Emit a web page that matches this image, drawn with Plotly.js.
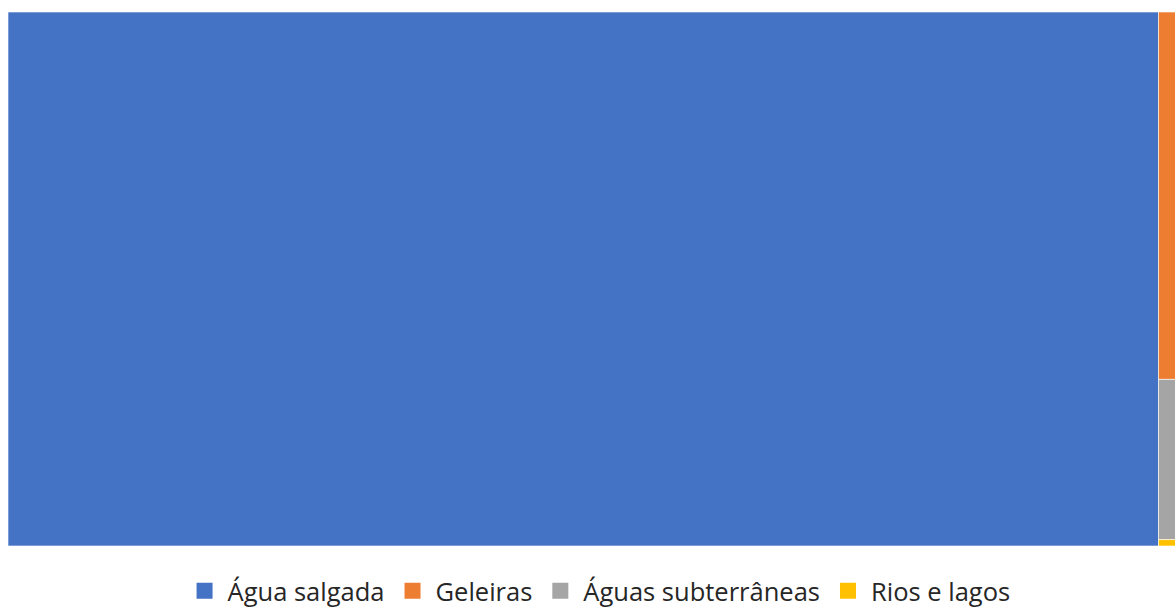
<!DOCTYPE html>
<html>
<head>
<meta charset="utf-8">
<script src="https://cdn.plot.ly/plotly-3.0.1.min.js"></script>
<style>
html,body{margin:0;padding:0;overflow:hidden;background:#fff;}
#chart{width:1190px;height:607px;}
</style>
</head>
<body>
<div id="chart"></div>
<script>
const categories = ["Água salgada", "Geleiras", "Águas subterrâneas", "Rios e lagos"];
const values = [97.5, 1.72, 0.75, 0.03];
const colors = ["#4472C4", "#ED7D31", "#A5A5A5", "#FFC000"];

const treemap = {
  type: 'treemap',
  labels: categories,
  parents: categories.map(() => ""),
  values: values,
  textinfo: 'none',
  hoverinfo: 'label+value',
  sort: true,
  tiling: {packing: 'squarify', pad: 0},
  pathbar: {visible: false},
  marker: {colors: colors, line: {color: 'rgba(255,255,255,0.6)', width: 1}, pad: {t:0,l:0,r:0,b:0}},
  domain: {x: [0, 1], y: [0, 1]},
  showlegend: false
};

const legendTraces = categories.map((c, i) => ({
  type: 'scatter',
  mode: 'markers',
  x: [null], y: [null],
  name: c,
  marker: {symbol: 'square', size: 16, color: colors[i]},
  showlegend: true,
  hoverinfo: 'skip'
}));

const layout = {
  width: 1190, height: 607,
  margin: {l: 8, r: 2, t: 12, b: 61, autoexpand: false},
  paper_bgcolor: '#ffffff',
  plot_bgcolor: 'rgba(0,0,0,0)',
  xaxis: {visible: false},
  yaxis: {visible: false},
  showlegend: true,
  legend: {
    orientation: 'h',
    xref: 'container', yref: 'container',
    x: 0.503, xanchor: 'center',
    y: 0.026, yanchor: 'middle',
    font: {family: '"Open Sans", sans-serif', size: 25.5, color: '#262626'},
    itemsizing: 'trace',
    itemwidth: 36,
    tracegroupgap: 0
  }
};

Plotly.newPlot('chart', [treemap].concat(legendTraces), layout, {displayModeBar: false, staticPlot: true});
</script>
</body>
</html>
